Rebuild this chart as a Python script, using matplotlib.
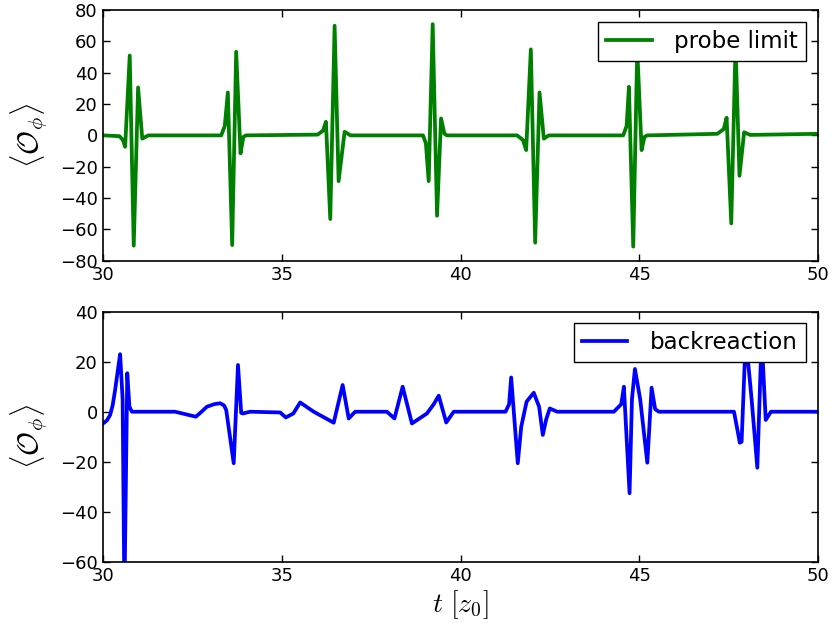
import matplotlib
matplotlib.use("Agg")
import matplotlib.pyplot as plt

# ---- data ----
t_probe = [30.0, 30.45, 30.55, 30.61, 30.739, 30.851, 30.973, 31.09, 31.26,
           33.30, 33.40, 33.486, 33.607, 33.719, 33.841, 33.92, 33.99,
           36.00, 36.15, 36.232, 36.353, 36.475, 36.587, 36.755, 36.92,
           38.95, 39.03, 39.109, 39.221, 39.343, 39.455, 39.55, 39.62,
           41.585, 41.75, 41.838, 41.969, 42.090, 42.212, 42.333, 42.47,
           44.556, 44.65, 44.715, 44.836, 44.948, 45.07, 45.15, 45.23,
           47.19, 47.37, 47.45, 47.58, 47.70, 47.81, 47.94, 48.11, 50.0]
y_probe = [0.0, -0.5, -3.0, -7.3, 51.0, -70.4, 30.6, -2.1, 0.0,
           0.0, 6.0, 27.4, -70.0, 53.4, -11.5, -1.0, 0.0,
           0.5, 3.0, 8.7, -53.4, 70.0, -29.2, 2.3, 0.0,
           0.0, -5.0, -29.2, 71.0, -51.3, 10.8, 1.0, 0.0,
           0.0, -3.0, -9.4, 54.9, -68.5, 27.4, -2.1, 0.0,
           0.0, 6.0, 31.0, -71.0, 55.0, -9.4, -1.0, 0.0,
           1.0, 4.0, 11.3, -56.2, 58.0, -25.8, 2.0, 0.3, 1.0]

t_back = [30.0, 30.10, 30.19, 30.26, 30.33, 30.42, 30.47, 30.54, 30.59, 30.67, 30.73, 30.80,
          32.01, 32.30, 32.59, 32.75, 32.90, 33.10, 33.27, 33.38, 33.44, 33.65, 33.77, 33.86, 33.91, 34.11,
          34.95, 35.11, 35.32, 35.51, 35.89, 36.45, 36.70, 36.87, 37.05,
          37.94, 38.15, 38.38, 38.64, 39.06, 39.25, 39.39, 39.60, 39.81,
          41.26, 41.36, 41.418, 41.603, 41.70, 41.85, 42.051, 42.20, 42.304, 42.40, 42.50, 42.707,
          44.294, 44.50, 44.574, 44.733, 44.80, 44.883, 45.03, 45.23, 45.35, 45.45, 45.555,
          47.657, 47.82, 47.87, 47.985, 48.15, 48.31, 48.43, 48.545, 48.69, 50.0]
y_back = [-4.6, -3.5, -1.3, 2.5, 8.7, 18.0, 23.0, 5.0, -75.0, 15.4, 2.0, 0.0,
          0.0, -1.0, -2.0, 0.0, 2.0, 3.0, 3.4, 2.5, 0.7, -20.6, 18.7, -0.5, -0.7, 0.0,
          -0.3, -2.3, -0.7, 3.7, 0.0, -4.4, 10.7, -2.7, 0.0,
          0.0, -2.7, 10.0, -4.7, -0.7, 3.0, 6.4, -4.3, 0.0,
          0.0, 3.0, 13.7, -20.6, -6.0, 4.0, 7.6, 2.0, -9.3, -3.0, 1.3, 0.0,
          0.0, 3.0, 10.0, -32.6, 5.0, 17.1, 5.0, -20.4, 9.6, 1.0, 0.0,
          0.0, -12.4, -12.0, 30.0, 5.0, -22.4, 30.0, -3.3, 0.0, 0.0]

xticks = [30, 35, 40, 45, 50]
yticks_top = [-80, -60, -40, -20, 0, 20, 40, 60, 80]
yticks_bot = [-60, -40, -20, 0, 20, 40]

plt.rcParams['mathtext.fontset'] = 'cm'
plt.rcParams['font.family'] = 'DejaVu Sans'

fig = plt.figure(figsize=(8.32, 6.30), dpi=100)
ax1 = fig.add_axes([0.1242, 0.5862, 0.8586, 0.3978])
ax2 = fig.add_axes([0.1242, 0.1084, 0.8586, 0.3968])

ax1.plot(t_probe, y_probe, color='#008000', lw=2.7, label='probe limit')
ax2.plot(t_back, y_back, color='#0000ff', lw=2.7, label='backreaction')

for ax, yt in ((ax1, yticks_top), (ax2, yticks_bot)):
    ax.set_xlim(30, 50)
    ax.set_ylim(yt[0], yt[-1])
    ax.set_xticks(xticks)
    ax.set_yticks(yt)
    ax.tick_params(direction='in', top=True, right=True, length=5, width=1,
                   labelsize=13, pad=4)
    for s in ax.spines.values():
        s.set_linewidth(1.2)
    ax.set_ylabel(r'$\langle\mathcal{O}_\phi\rangle$', fontsize=21, labelpad=8)
    leg = ax.legend(loc='upper right', fontsize=16.5, fancybox=False,
                    framealpha=1, edgecolor='black', borderaxespad=0.5,
                    handlelength=2.0, borderpad=0.35, handletextpad=1.0)
    leg.get_frame().set_linewidth(1.0)

ax2.set_xlabel(r'$t\ [z_0]$', fontsize=20, labelpad=2)

fig.savefig('out.png', dpi=100)
